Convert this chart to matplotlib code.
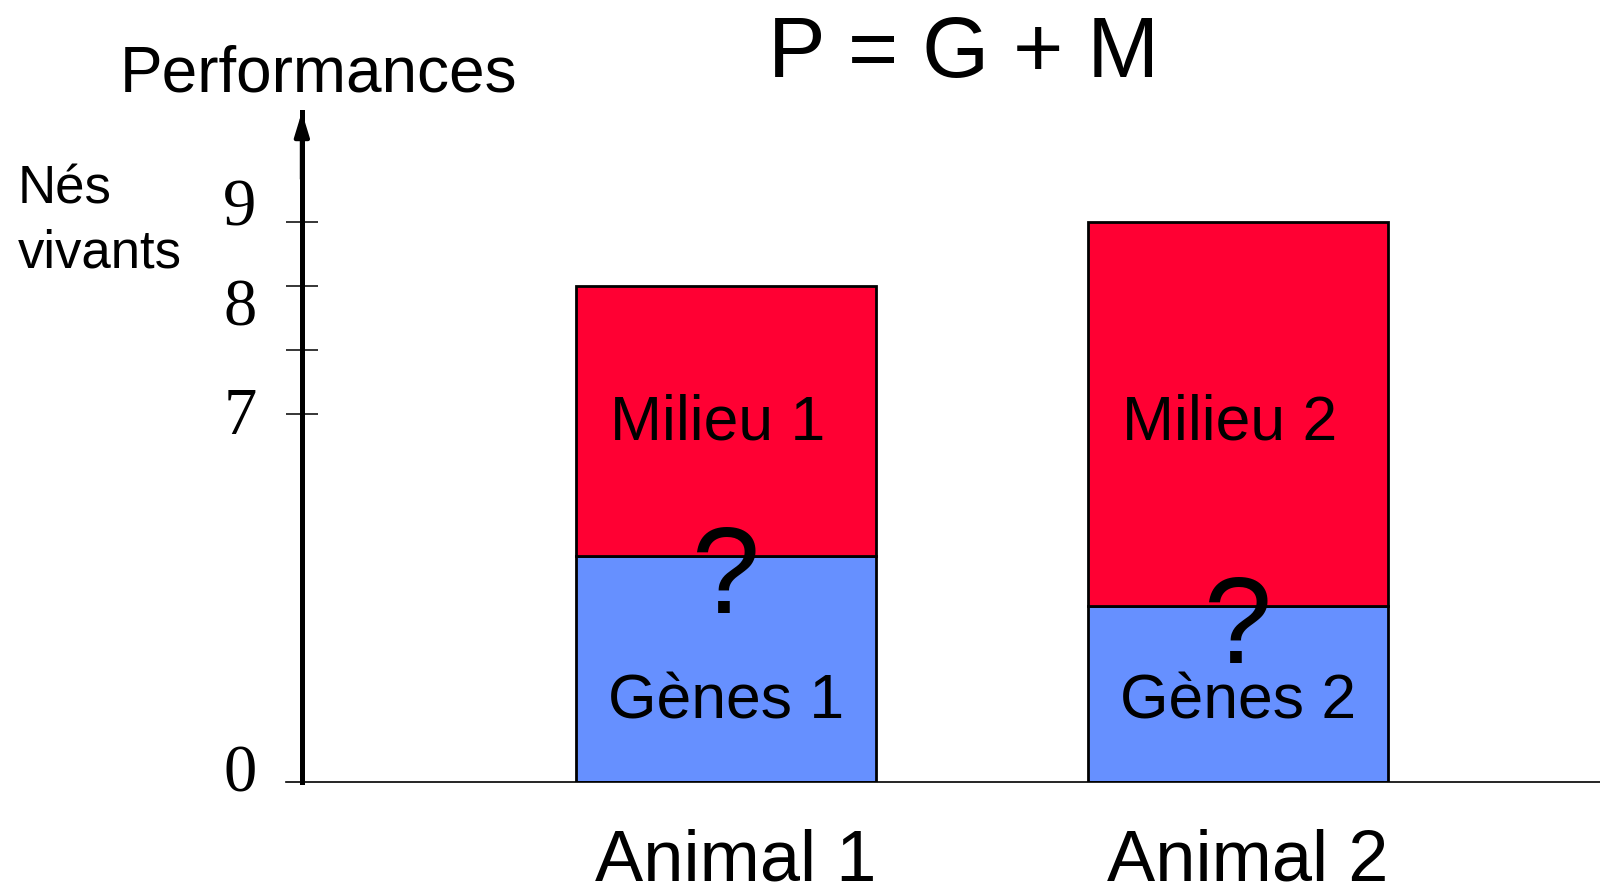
import numpy as np
import matplotlib.pyplot as plt

plt.rcParams['font.family'] = ['Liberation Sans', 'DejaVu Sans']

# data (schematic values)
animals = ['Animal 1', 'Animal 2']
genes = [4.3, 3.35]
milieu = [3.7, 5.65]
genes_labels = ['Gènes 1', 'Gènes 2']
milieu_labels = ['Milieu 1', 'Milieu 2']
tick_values = [7, 7.5, 8, 9]
value_labels = ['0', '7', '8', '9']

# the original y axis is not linear: piecewise mapping value -> height
brk_val = [0, 7, 8, 9, 11]
brk_pos = [0, 368, 496, 560, 688]


def fwd(y):
    return np.interp(y, brk_val, brk_pos)


def inv(p):
    return np.interp(p, brk_pos, brk_val)


red = '#FF0033'
blue = '#6690FF'

fig = plt.figure(figsize=(16, 8.85), dpi=100)
ax = fig.add_axes([286 / 1600, 103 / 885, 1314 / 1600, 670 / 885])
ax.set_yscale('function', functions=(fwd, inv))
ax.set_ylim(0, inv(670))
ax.set_xlim(-0.859, 1.707)

x = np.arange(len(animals))
ax.bar(x, genes, width=0.585, color=blue, edgecolor='black', linewidth=2)
ax.bar(x, milieu, bottom=genes, width=0.585, color=red, edgecolor='black', linewidth=2)

for i in range(len(animals)):
    ax.annotate(milieu_labels[i], xy=(x[i], 6.52), xytext=(-6, 0), textcoords='offset points',
                ha='center', va='baseline', fontsize=45)
    ax.text(x[i], 1.2, genes_labels[i], ha='center', va='baseline', fontsize=45)
    ax.annotate('?', xy=(x[i], genes[i]), xytext=(0, -41), textcoords='offset points',
                ha='center', va='baseline', fontsize=88)
    ax.annotate(animals[i], xy=(x[i], 0), xytext=(7, -71), textcoords='offset points',
                ha='center', va='baseline', fontsize=52, annotation_clip=False)

# axes styling
yaxis_x = -0.828
for s in ['top', 'right']:
    ax.spines[s].set_visible(False)
ax.spines['left'].set_position(('data', yaxis_x))
ax.spines['left'].set_linewidth(3.6)
ax.spines['bottom'].set_linewidth(1.2)
ax.set_xticks([])
ax.set_yticks(tick_values)
ax.set_yticklabels([])
ax.tick_params(axis='y', direction='inout', length=23, width=1.1)
ax.annotate('', xy=(yaxis_x, 1.0), xycoords=ax.get_xaxis_transform(),
            xytext=(yaxis_x, 0.9),
            arrowprops=dict(arrowstyle='-|>,head_length=0.72,head_width=0.22',
                            color='black', lw=3, mutation_scale=20,
                            shrinkA=0, shrinkB=0))

# value labels (serif, placed a bit off their ticks like the original)
label_pos = [0.13, 6.93, 7.82, 9.2]
for lab, pos in zip(value_labels, label_pos):
    ax.text(-0.949, pos, lab, ha='center', va='center', fontsize=48,
            family='Liberation Serif')

fig.text(120 / 1600, 1 - 92 / 885, 'Performances', fontsize=46, va='baseline', ha='left')
fig.text(964 / 1600, 1 - 77 / 885, 'P = G + M', fontsize=62, va='baseline', ha='center')
fig.text(18 / 1600, 1 - 204 / 885, 'Nés', fontsize=38, va='baseline', ha='left')
fig.text(18 / 1600, 1 - 267 / 885, 'vivants', fontsize=38, va='baseline', ha='left')

fig.savefig('out.png', dpi=100)
